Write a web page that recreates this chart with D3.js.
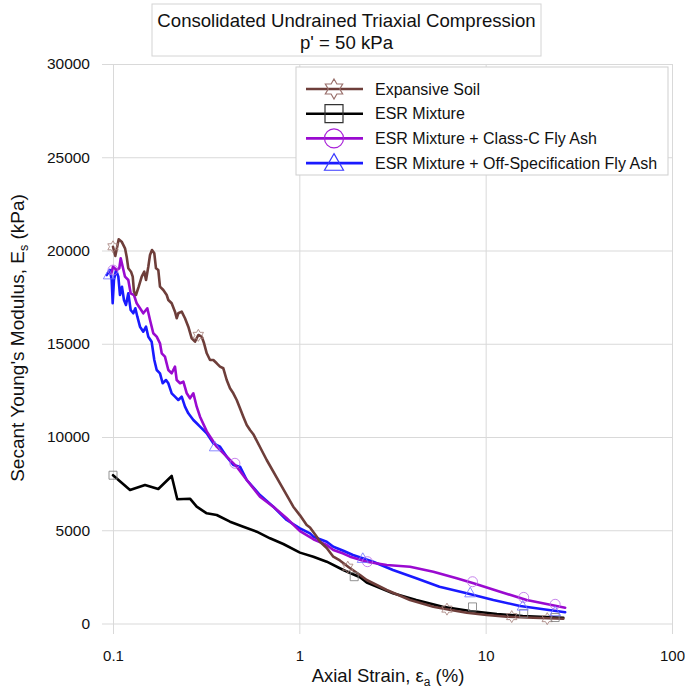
<!DOCTYPE html>
<html>
<head>
<meta charset="utf-8">
<script src="https://cdn.jsdelivr.net/npm/d3@7"></script>
<style>
  html, body { margin: 0; padding: 0; background: #fff; }
  svg { display: block; font-family: "Liberation Sans", Arial, Helvetica, sans-serif; }
</style>
</head>
<body>
<svg id="chart" width="685" height="688"></svg>
<script>
// ---------------- data ----------------
const titleLines = ["Consolidated Undrained Triaxial Compression", "p' = 50 kPa"];
const xTicks = [0.1, 1, 10, 100];
const xTickLabels = ["0.1", "1", "10", "100"];
const yTicks = [0, 5000, 10000, 15000, 20000, 25000, 30000];
const seriesNames = ["Expansive Soil", "ESR Mixture", "ESR Mixture + Class-C Fly Ash", "ESR Mixture + Off-Specification Fly Ash"];

const expansiveSoil = [
  [0.1,20200],[0.1029,19705],[0.1073,20601],[0.1113,20472],[0.116,20118],[0.1184,19668],[0.1208,19046],
  [0.1249,18864],[0.1276,18596],[0.1296,17791],[0.1328,17614],[0.1374,18059],[0.1426,18596],[0.1472,18864],
  [0.1504,18418],[0.1547,19132],[0.158,19759],[0.1619,20027],[0.1666,19850],[0.1701,19046],[0.175,18955],
  [0.1787,18059],[0.1862,17882],[0.1942,17614],[0.1981,17346],[0.2065,17169],[0.2151,16719],[0.2197,16365],
  [0.2241,16633],[0.2337,16719],[0.2434,16365],[0.2536,15914],[0.2645,15292],[0.2755,15110],[0.2871,15469],
  [0.2994,15378],[0.3081,15024],[0.3185,14488],[0.3317,14129],[0.3455,14129],[0.3603,13952],[0.3752,13770],
  [0.3909,13684],[0.4076,13056],[0.4246,12611],[0.4423,12343],[0.4612,11984],[0.4803,11539],[0.5004,11089],
  [0.5221,10644],[0.5437,10375],[0.5662,10150],[0.6681,8767],[0.7876,7517],[0.928,6263],[1.008,5800],
  [1.095,5282],[1.141,5150],[1.24,4654],[1.291,4386],[1.403,4050],[1.522,3582],[1.65,3380],[1.85,3000],
  [2.117,2600],[2.299,2332],[2.944,1796],[3.926,1260],[5.236,901],[6.18,761],[7.91,579],[10.13,456],
  [12.97,365],[18.03,311],[26.1,257]
];
const esrMixture = [
  [0.1,7950],[0.1234,7158],[0.1485,7426],[0.175,7212],[0.2065,7909],[0.2213,6660],[0.2589,6692],
  [0.2813,6263],[0.3185,5909],[0.3603,5818],[0.4246,5459],[0.5004,5191],[0.5905,4922],[0.6959,4568],
  [0.8204,4263],[1.008,3800],[1.189,3582],[1.403,3314],[1.722,2869],[2.117,2477],[2.299,2200],
  [3.18,1619],[4.24,1260],[5.88,901],[8.26,670],[11.5,509],[15.8,402],[26.1,311]
];
const esrClassC = [
  [0.098,18780],[0.1,19132],[0.1045,18955],[0.1081,19046],[0.11,19582],[0.116,18596],[0.1208,18418],
  [0.1244,17705],[0.1296,17614],[0.134,17169],[0.1396,16901],[0.1454,16633],[0.1528,16901],[0.158,16274],
  [0.1645,15561],[0.1716,15378],[0.1787,15024],[0.1826,14488],[0.19,14306],[0.1981,13593],[0.2065,13416],
  [0.2151,13770],[0.2197,13056],[0.229,12880],[0.2386,12965],[0.2488,12343],[0.2589,12075],[0.2699,12343],
  [0.2813,11625],[0.2931,11089],[0.3185,10300],[0.3603,9480],[0.4076,8944],[0.4612,8408],[0.5221,7695],
  [0.6149,6799],[0.7248,6263],[0.8555,5641],[1.008,4950],[1.189,4520],[1.403,4209],[1.522,3941],
  [1.722,3750],[1.871,3582],[2.299,3314],[2.944,3137],[3.926,3046],[5.236,2777],[6.99,2424],[8.6,2156],
  [11.95,1705],[16.6,1260],[26.7,847]
];
const esrOffSpec = [
  [0.0925,18686],[0.0963,18955],[0.0984,18418],[0.0996,17169],[0.1012,18418],[0.1038,18955],[0.1068,18596],
  [0.109,17614],[0.1117,18059],[0.1145,17346],[0.1174,17078],[0.1208,17705],[0.1244,16810],[0.1285,16633],
  [0.1318,16901],[0.1351,16451],[0.1396,15914],[0.1454,15646],[0.1504,15914],[0.1547,15378],[0.1612,15110],
  [0.1666,14129],[0.1716,13593],[0.1787,13416],[0.1847,12880],[0.1925,13056],[0.1981,12880],[0.2065,12343],
  [0.2151,12161],[0.2241,11984],[0.2337,12161],[0.2434,11625],[0.2536,11271],[0.2699,10912],[0.2813,10735],
  [0.2931,10553],[0.3185,10199],[0.3455,9662],[0.3752,9480],[0.4076,8944],[0.4423,8499],[0.4803,8408],
  [0.5221,7695],[0.6149,6890],[0.7248,6263],[0.8555,5550],[1.008,5105],[1.141,4837],[1.189,4654],
  [1.403,4386],[1.522,4118],[1.722,3900],[1.94,3673],[2.49,3314],[3.18,2869],[4.24,2424],[5.65,1973],
  [7.91,1619],[11.0,1260],[15.3,938],[26.7,601]
];

const starMarks = [[0.1,20200],[0.287,15450],[1.82,3020],[6.2,770],[13.8,370],[21.4,260]];
const squareMarks = [[0.1,7950],[1.97,2510],[8.5,890],[16.0,540],[23.6,320]];
const circleMarks = [[0.1,18950],[0.451,8590],[2.32,3314],[8.5,2240],[16.0,1400],[23.6,1030]];
const triangleMarks = [[0.095,18700],[0.352,9480],[2.19,3496],[8.26,1650],[15.8,940],[23.6,640]];

// ---------------- styles ----------------
const colors = ["#6e3e3a", "#000000", "#9a0ad0", "#1a1aff"];
const markColors = ["#a8847f", "#808080", "#bd70e8", "#7777ff"];

const svg = d3.select("#chart");
const x = d3.scaleLog().domain([0.1, 100]).range([113, 672]);
const y = d3.scaleLinear().domain([0, 30000]).range([623.5, 64]);

// grid + y axis
const yAxis = d3.axisLeft(y).tickValues(yTicks).tickFormat(d => String(d))
  .tickSizeInner(-570).tickSizeOuter(0).tickPadding(12);
const gy = svg.append("g").attr("transform", "translate(102,0)").call(yAxis);
gy.select(".domain").remove();
gy.selectAll(".tick line").attr("stroke", "#d9d9d9").attr("stroke-width", 1);
gy.selectAll(".tick text").attr("fill", "#111").style("font-size", "15.5px")
  .style("font-family", '"Liberation Sans", Arial, sans-serif');

const xAxis = d3.axisBottom(x).tickValues(xTicks).tickFormat((d, i) => xTickLabels[i])
  .tickSizeInner(-570).tickSizeOuter(0).tickPadding(16);
const gx = svg.append("g").attr("transform", "translate(0,634)").call(xAxis);
gx.select(".domain").remove();
gx.selectAll(".tick line").attr("stroke", "#d9d9d9").attr("stroke-width", 1);
gx.selectAll(".tick text").attr("fill", "#111").style("font-size", "15px")
  .style("font-family", '"Liberation Sans", Arial, sans-serif');

// axis titles
const xt = svg.append("text").attr("x", 388).attr("y", 682).attr("text-anchor", "middle")
  .style("font-size", "18.5px").attr("fill", "#111");
xt.append("tspan").text("Axial Strain, ε");
xt.append("tspan").attr("dy", 4).style("font-size", "12px").text("a");
xt.append("tspan").attr("dy", -4).text(" (%)");

const yt = svg.append("text").attr("transform", "translate(24,338) rotate(-90)").attr("text-anchor", "middle")
  .style("font-size", "19px").attr("fill", "#111");
yt.append("tspan").text("Secant Young's Modulus, E");
yt.append("tspan").attr("dy", 4).style("font-size", "12.5px").text("s");
yt.append("tspan").attr("dy", -4).text(" (kPa)");

// lines
const line = d3.line().x(d => x(d[0])).y(d => y(d[1]));
const allSeries = [esrMixture, esrOffSpec, esrClassC, expansiveSoil];
const allColorIdx = [1, 3, 2, 0];
allSeries.forEach((s, i) => {
  svg.append("path").datum(s).attr("d", line).attr("fill", "none")
    .attr("stroke", colors[allColorIdx[i]]).attr("stroke-width", 2.6)
    .attr("stroke-linejoin", "round").attr("stroke-linecap", "round");
});

// marker shapes
function starPath(r) {
  const pts = [];
  for (let k = 0; k < 12; k++) {
    const rr = k % 2 === 0 ? r : r / Math.sqrt(3);
    const a = -Math.PI / 2 + k * Math.PI / 6;
    pts.push([rr * Math.cos(a), rr * Math.sin(a)]);
  }
  return "M" + pts.map(p => p[0].toFixed(2) + "," + p[1].toFixed(2)).join("L") + "Z";
}
function squarePath(r) { return `M${-r},${-r}H${r}V${r}H${-r}Z`; }
function circlePath(r) { return `M${r},0A${r},${r} 0 1,1 ${-r},0A${r},${r} 0 1,1 ${r},0Z`; }
function trianglePath(r) { return `M0,${-r}L${r},${r * 0.75}L${-r},${r * 0.75}Z`; }
const shapeFns = [starPath, squarePath, circlePath, trianglePath];
const markSets = [starMarks, squareMarks, circleMarks, triangleMarks];
const markSizes = [6, 4, 5, 5.5];

markSets.forEach((ms, i) => {
  svg.append("g").selectAll("path").data(ms).join("path")
    .attr("transform", d => `translate(${x(d[0])},${y(d[1])})`)
    .attr("d", shapeFns[i](markSizes[i]))
    .attr("fill", "none").attr("stroke", markColors[i]).attr("stroke-width", 1).attr("opacity", 0.85);
});

// title box
svg.append("rect").attr("x", 152).attr("y", 4).attr("width", 389).attr("height", 52)
  .attr("fill", "#fff").attr("stroke", "#d4d4d4").attr("stroke-width", 1);
titleLines.forEach((t, i) => {
  svg.append("text").attr("x", 346.5).attr("y", 26.5 + i * 22).attr("text-anchor", "middle")
    .style("font-size", "18.6px").attr("fill", "#111").text(t);
});

// legend
const lg = svg.append("g");
lg.append("rect").attr("x", 296).attr("y", 67).attr("width", 372).attr("height", 108)
  .attr("fill", "#fff").attr("stroke", "#cfcfcf").attr("stroke-width", 1);
const legendSizes = [10, 9, 9.5, 9.5];
const legendMarkColors = ["#9a706c", "#333333", "#a820d8", "#3a3aff"];
seriesNames.forEach((name, i) => {
  const cy = 89 + i * 24.7;
  lg.append("line").attr("x1", 306).attr("x2", 363).attr("y1", cy).attr("y2", cy)
    .attr("stroke", colors[i]).attr("stroke-width", 2.6);
  lg.append("path").attr("transform", `translate(334,${cy})`).attr("d", shapeFns[i](legendSizes[i]))
    .attr("fill", "none").attr("stroke", legendMarkColors[i]).attr("stroke-width", 1.2);
  lg.append("text").attr("x", 375).attr("y", cy + 5.5).style("font-size", "16px").attr("fill", "#111").text(name);
});
</script>
</body>
</html>
